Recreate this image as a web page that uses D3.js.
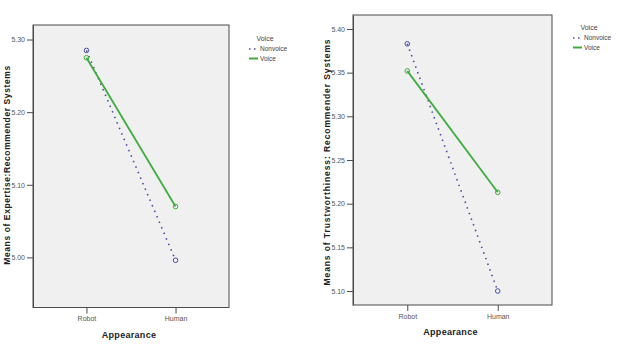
<!DOCTYPE html>
<html>
<head>
<meta charset="utf-8">
<script src="https://cdn.jsdelivr.net/npm/d3@7"></script>
<style>
  body { margin: 0; background: #fff; }
  svg { font-family: "Liberation Sans", Arial, sans-serif; }
</style>
</head>
<body>
<svg id="chart" width="633" height="348"></svg>
<script>
// data
var categories = ["Robot", "Human"];
var seriesNames = ["Nonvoice", "Voice"];

var expertiseNonvoice = [5.285, 4.996];
var expertiseVoice = [5.275, 5.070];
var expertiseTicks = [5.00, 5.10, 5.20, 5.30];

var trustNonvoice = [5.383, 5.100];
var trustVoice = [5.352, 5.213];
var trustTicks = [5.10, 5.15, 5.20, 5.25, 5.30, 5.35, 5.40];

var colors = { "Nonvoice": "#4a4aa8", "Voice": "#3dae3d" };

var svg = d3.select("#chart");

const drawPanel = (opt) => {
    var g = svg.append("g");

    var x = d3.scalePoint().domain(categories).range([opt.left, opt.right]).padding(0.6);
    var y = d3.scaleLinear().domain(opt.domain).range([opt.bottom, opt.top]);

    // plot background
    g.append("rect")
        .attr("x", opt.left).attr("y", opt.top)
        .attr("width", opt.right - opt.left).attr("height", opt.bottom - opt.top)
        .attr("fill", "#f0f0f0")
        .attr("stroke", "#4a4a4a").attr("stroke-width", 1);

    // y axis
    var yAxis = d3.axisLeft(y).tickValues(opt.ticks).tickSize(6).tickSizeOuter(0)
        .tickFormat(d3.format(".2f"));
    var ya = g.append("g").attr("transform", "translate(" + opt.left + ",0)").call(yAxis);
    ya.select(".domain").attr("stroke", "#4a4a4a");
    ya.selectAll(".tick line").attr("stroke", "#4a4a4a");
    ya.selectAll(".tick text").attr("font-size", 7).attr("fill", "#555").attr("x", -8);

    // x axis
    var xAxis = d3.axisBottom(x).tickSize(6).tickSizeOuter(0);
    var xa = g.append("g").attr("transform", "translate(0," + opt.bottom + ")").call(xAxis);
    xa.select(".domain").remove();
    xa.selectAll(".tick line").attr("stroke", "#4a4a4a");
    xa.selectAll(".tick text").attr("font-size", 7).attr("fill", "#555").attr("y", 9);

    // axis titles
    g.append("text")
        .attr("x", (opt.left + opt.right) / 2 - 2).attr("y", opt.bottom + 30)
        .attr("text-anchor", "middle").attr("font-size", 9).attr("font-weight", "bold")
        .attr("letter-spacing", 0.3)
        .attr("fill", "#222")
        .text("Appearance");

    g.append("text")
        .attr("transform", "translate(" + opt.ytitleX + "," + opt.ytitleY + ") rotate(-90)")
        .attr("text-anchor", "middle").attr("font-size", 8.5).attr("font-weight", "bold")
        .attr("letter-spacing", opt.ytitleSpacing)
        .attr("fill", "#222")
        .text(opt.ytitle);

    // lines
    var line = d3.line().x((d, i) => x(categories[i])).y(d => y(d));
    var series = [
        { name: "Nonvoice", values: opt.nonvoice },
        { name: "Voice", values: opt.voice }
    ];
    series.forEach(s => {
        var p = g.append("path").datum(s.values)
            .attr("d", line)
            .attr("fill", "none")
            .attr("stroke", colors[s.name]);
        if (s.name == "Nonvoice") {
            p.attr("stroke-width", 1.6).attr("stroke-dasharray", "1.5,4.5");
        } else {
            p.attr("stroke-width", 1.8);
        }
        g.selectAll(null).data(s.values).enter().append("circle")
            .attr("cx", (d, i) => x(categories[i]))
            .attr("cy", d => y(d))
            .attr("r", 2.3)
            .attr("fill", "none")
            .attr("stroke", colors[s.name])
            .attr("stroke-width", 1);
    });

    // legend
    var lg = g.append("g");
    lg.append("text")
        .attr("x", opt.legX + 16).attr("y", opt.legY)
        .attr("text-anchor", "middle").attr("font-size", 7).attr("fill", "#444")
        .text("Voice");
    seriesNames.forEach((n, i) => {
        var yy = opt.legY + 10 + i * 9.5;
        var l = lg.append("line")
            .attr("x1", opt.legX).attr("x2", opt.legX + 9)
            .attr("y1", yy - 2).attr("y2", yy - 2)
            .attr("stroke", colors[n]);
        if (n == "Nonvoice") {
            l.attr("stroke-width", 1.6).attr("stroke-dasharray", "1.5,3.5");
        } else {
            l.attr("stroke-width", 2);
        }
        lg.append("text")
            .attr("x", opt.legX + 11).attr("y", yy)
            .attr("font-size", 6.5).attr("fill", "#444")
            .text(n);
    });
};

drawPanel({
    left: 33, right: 229, top: 25, bottom: 307.5,
    domain: [4.931, 5.320],
    ticks: expertiseTicks,
    nonvoice: expertiseNonvoice, voice: expertiseVoice,
    ytitle: "Means of Expertise:Recommender Systems",
    ytitleX: 10, ytitleY: 165, ytitleSpacing: 0.6,
    legX: 249, legY: 41
});

drawPanel({
    left: 353, right: 552, top: 15, bottom: 305,
    domain: [5.084, 5.416],
    ticks: trustTicks,
    nonvoice: trustNonvoice, voice: trustVoice,
    ytitle: "Means of Trustworthiness: Recommender Systems",
    ytitleX: 330, ytitleY: 162, ytitleSpacing: 0.9,
    legX: 573, legY: 30
});
</script>
</body>
</html>
